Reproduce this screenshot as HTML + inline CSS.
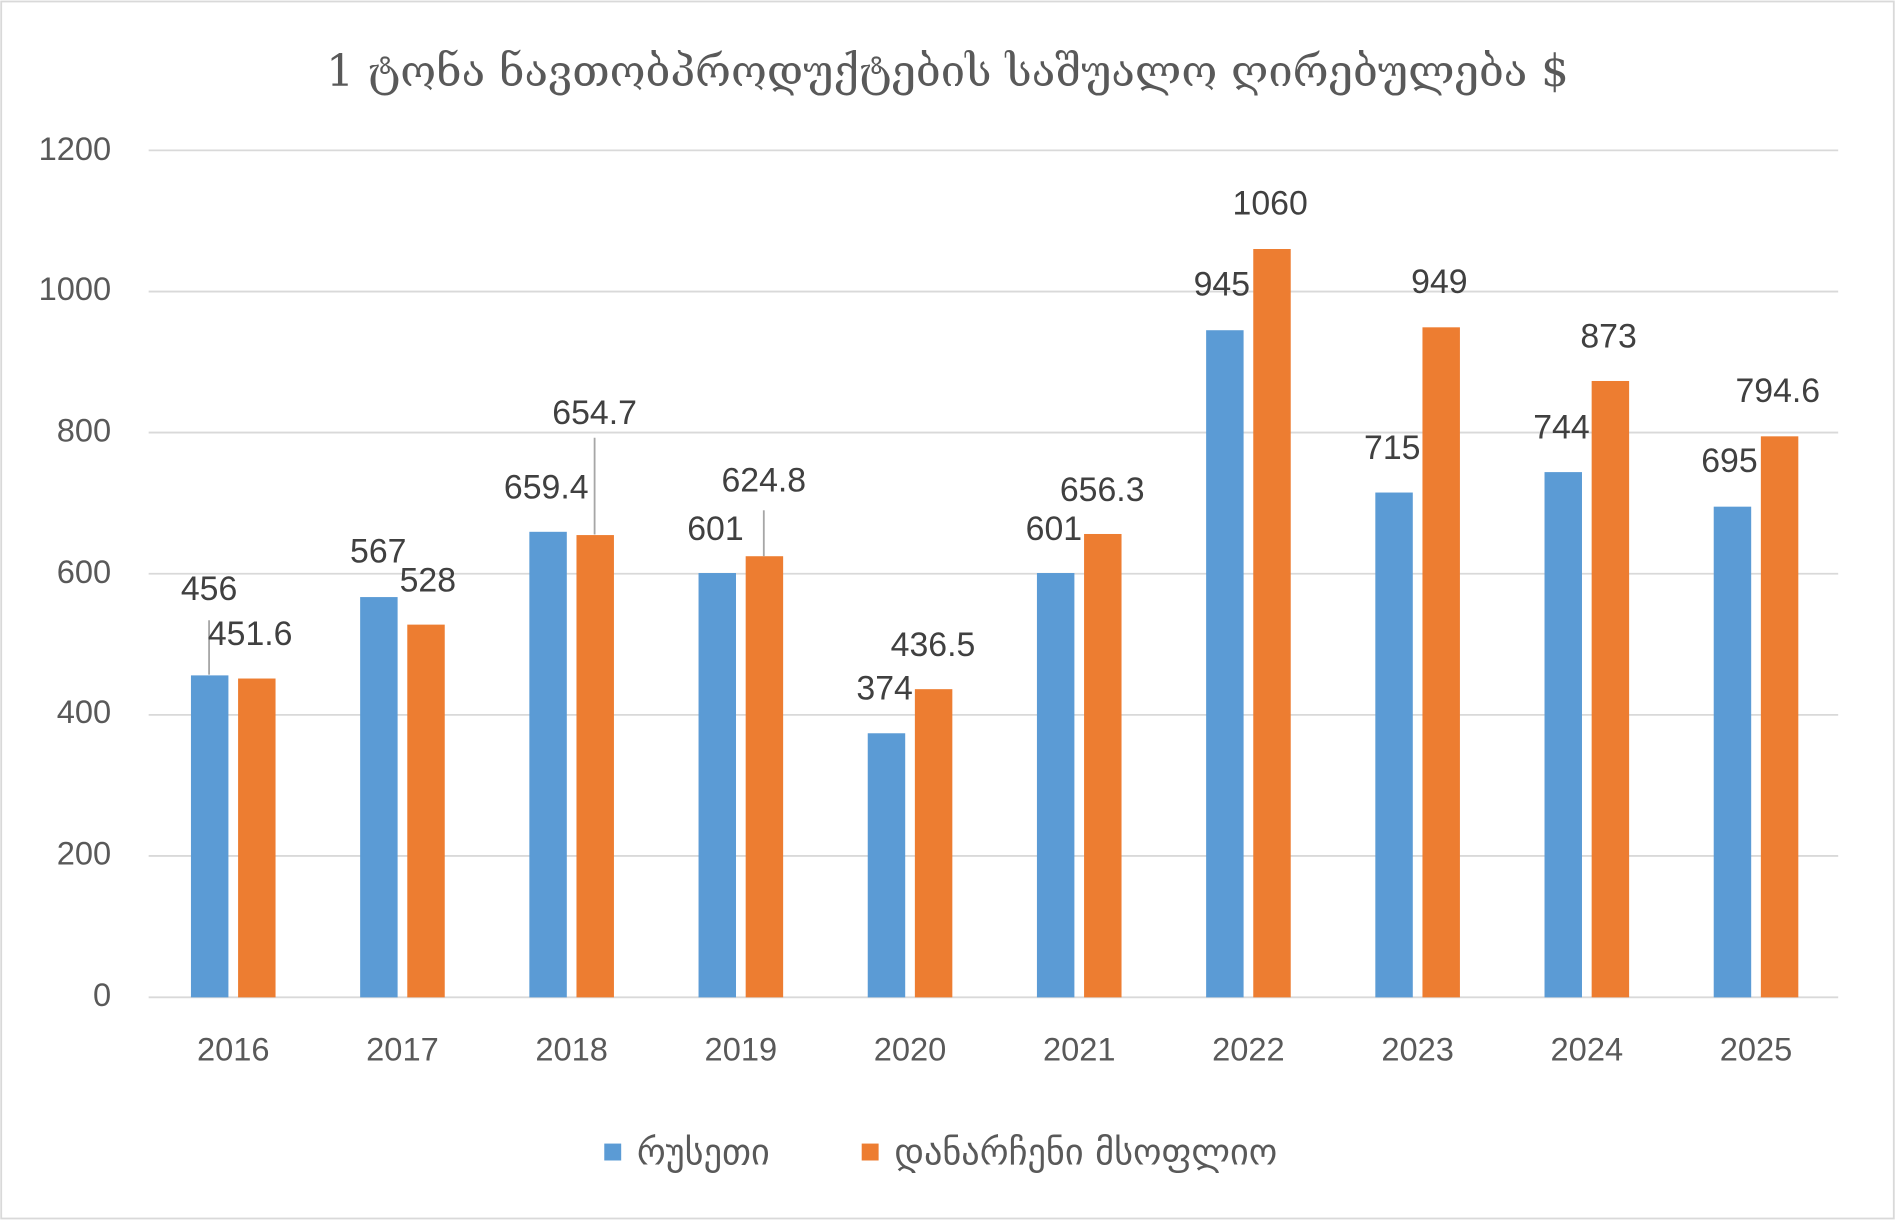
<!DOCTYPE html>
<html><head><meta charset="utf-8"><style>html,body{margin:0;padding:0;background:#fff}svg{display:block}</style></head>
<body>
<svg width="1895" height="1220" viewBox="0 0 1568 1009" xmlns="http://www.w3.org/2000/svg">
<rect x="1" y="1" width="1566" height="1007" fill="#fff" stroke="#d9d9d9" stroke-width="1.5"/>
<text x="784" y="62" text-anchor="middle" dominant-baseline="middle" font-family="'DejaVu Serif','Liberation Serif',serif" font-size="36" fill="#595959">1 ტონა ნავთობპროდუქტების საშუალო ღირებულება $</text>
<g stroke="#d9d9d9" stroke-width="1.5">
<line x1="123" x2="1521" y1="124.2" y2="124.2"/><line x1="123" x2="1521" y1="241" y2="241"/><line x1="123" x2="1521" y1="357.7" y2="357.7"/><line x1="123" x2="1521" y1="474.5" y2="474.5"/><line x1="123" x2="1521" y1="591.3" y2="591.3"/><line x1="123" x2="1521" y1="708" y2="708"/><line x1="123" x2="1521" y1="825" y2="825"/>
</g>
<g font-family="'Liberation Sans','DejaVu Sans',sans-serif" font-size="27" fill="#595959" text-anchor="end" dominant-baseline="middle">
<text x="92" y="125">1200</text><text x="92" y="241">1000</text><text x="92" y="358">800</text><text x="92" y="475">600</text><text x="92" y="591">400</text><text x="92" y="708">200</text><text x="92" y="825">0</text>
</g>
<g fill="#5b9bd5">
<rect x="158" y="558.6" width="31" height="266.4"/>
<rect x="298" y="493.8" width="31" height="331.2"/>
<rect x="438" y="439.8" width="31" height="385.2"/>
<rect x="578" y="473.9" width="31" height="351.1"/>
<rect x="718" y="606.5" width="31" height="218.5"/>
<rect x="858" y="473.9" width="31" height="351.1"/>
<rect x="998" y="273" width="31" height="552"/>
<rect x="1138" y="407.3" width="31" height="417.7"/>
<rect x="1278" y="390.4" width="31" height="434.6"/>
<rect x="1418" y="419" width="31" height="406"/>
</g>
<g fill="#ed7d31">
<rect x="197" y="561.2" width="31" height="263.8"/>
<rect x="337" y="516.6" width="31" height="308.4"/>
<rect x="477" y="442.5" width="31" height="382.5"/>
<rect x="617" y="460" width="31" height="365"/>
<rect x="757" y="570" width="31" height="255"/>
<rect x="897" y="441.6" width="31" height="383.4"/>
<rect x="1037" y="205.8" width="31" height="619.2"/>
<rect x="1177" y="270.6" width="31" height="554.4"/>
<rect x="1317" y="315" width="31" height="510"/>
<rect x="1457" y="360.8" width="31" height="464.2"/>
</g>
<g stroke="#a6a6a6" stroke-width="1.5"><line x1="173" y1="513" x2="173" y2="558"/><line x1="492" y1="362" x2="492" y2="442"/><line x1="632" y1="422" x2="632" y2="460"/></g>
<g font-family="'Liberation Sans','DejaVu Sans',sans-serif" font-size="27" fill="#595959" text-anchor="middle" dominant-baseline="middle">
<text x="193" y="870">2016</text><text x="333" y="870">2017</text><text x="473" y="870">2018</text><text x="613" y="870">2019</text><text x="753" y="870">2020</text><text x="893" y="870">2021</text><text x="1033" y="870">2022</text><text x="1173" y="870">2023</text><text x="1313" y="870">2024</text><text x="1453" y="870">2025</text>
</g>
<g font-family="'Liberation Sans','DejaVu Sans',sans-serif" font-size="28" fill="#404040" text-anchor="middle" dominant-baseline="middle">
<text x="173" y="489">456</text><text x="207" y="526">451.6</text>
<text x="313" y="458">567</text><text x="354" y="482">528</text>
<text x="452" y="405">659.4</text><text x="492" y="343">654.7</text>
<text x="592" y="439">601</text><text x="632" y="399">624.8</text>
<text x="732" y="571">374</text><text x="772" y="535">436.5</text>
<text x="872" y="439">601</text><text x="912" y="407">656.3</text>
<text x="1011" y="237">945</text><text x="1051" y="170">1060</text>
<text x="1152" y="372">715</text><text x="1191" y="235">949</text>
<text x="1292" y="355">744</text><text x="1331" y="280">873</text>
<text x="1431" y="383">695</text><text x="1471" y="325">794.6</text>
</g>
<rect x="500" y="946" width="14" height="14" fill="#5b9bd5"/>
<text x="527" y="955" dominant-baseline="middle" font-family="'DejaVu Sans',sans-serif" font-size="30" fill="#595959">რუსეთი</text>
<rect x="713" y="946" width="14" height="14" fill="#ed7d31"/>
<text x="740" y="955" dominant-baseline="middle" font-family="'DejaVu Sans',sans-serif" font-size="30" fill="#595959">დანარჩენი მსოფლიო</text>
</svg>
</body></html>
